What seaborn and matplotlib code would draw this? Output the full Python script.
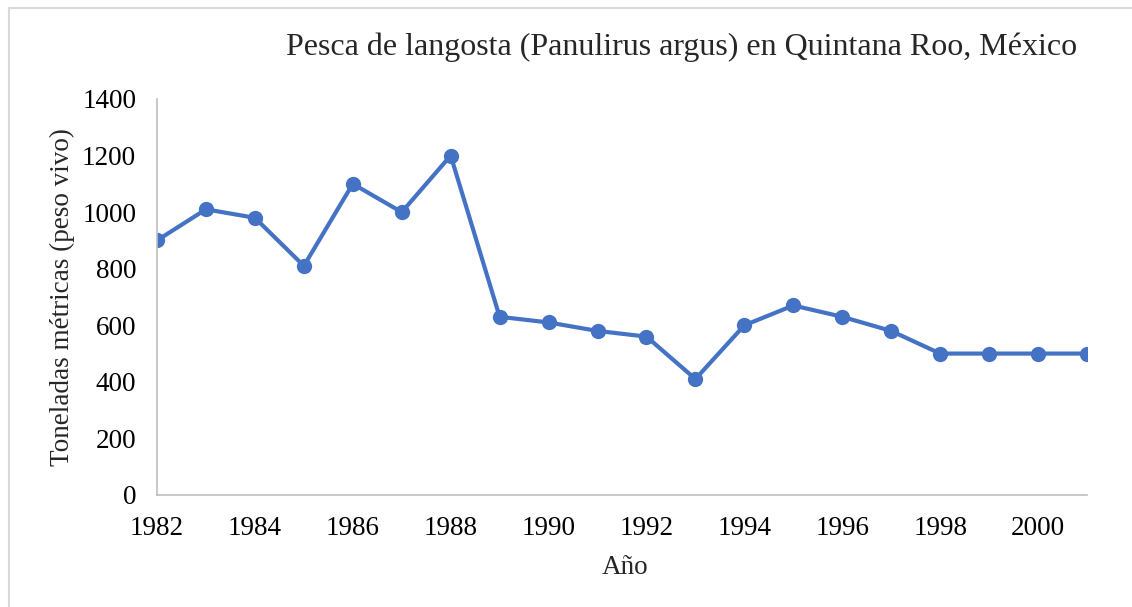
import numpy as np
import pandas as pd
import seaborn as sns
import matplotlib.pyplot as plt
from matplotlib.patches import Rectangle

years = list(range(1982, 2002))
toneladas = [900, 1010, 980, 810, 1100, 1000, 1200, 630, 610, 580,
             560, 410, 600, 670, 630, 580, 500, 500, 500, 500]

df = pd.DataFrame({'anio': years, 'toneladas': toneladas})

sns.set_theme(style="white")
plt.rcParams['font.family'] = ['Liberation Serif', 'DejaVu Serif']

fig = plt.figure(figsize=(11.32, 6.07), dpi=100)
ax = fig.add_axes([157 / 1132, 1 - 495 / 607, 930 / 1132, 396 / 607])

sns.lineplot(
    data=df, x='anio', y='toneladas', ax=ax,
    color='#4472C4', linewidth=3, marker='o', markersize=11,
    markeredgewidth=0,
)

ax.set_xlim(1982, 2001)
ax.set_ylim(0, 1400)
ax.set_xticks(range(1982, 2001, 2))
ax.set_yticks(range(0, 1401, 200))
ax.tick_params(labelsize=19.5, colors='black', length=0)
ax.tick_params(axis='y', pad=15)
ax.tick_params(axis='x', pad=15)
for side in ['top', 'right']:
    ax.spines[side].set_visible(False)
for side in ['left', 'bottom']:
    ax.spines[side].set_color('#BFBFBF')
    ax.spines[side].set_linewidth(1.2)
ax.set_xlabel('')
ax.set_ylabel('')

fig.text(682 / 1132, 1 - 47 / 607, 'Pesca de langosta (Panulirus argus) en Quintana Roo, México',
         ha='center', va='center', fontsize=23)
fig.text(625 / 1132, 1 - 568 / 607, 'Año', ha='center', va='center', fontsize=19.5)
fig.text(62 / 1132, 1 - 297 / 607, 'Toneladas métricas (peso vivo)', ha='center', va='center',
         rotation=90, fontsize=19.5)

fig.patches.append(Rectangle((9 / 1132, -0.05), 1.1, 1 - 8 / 607 + 0.05,
                             transform=fig.transFigure, fill=False,
                             edgecolor='#D9D9D9', linewidth=1.5))

fig.savefig('out.png', dpi=100)
